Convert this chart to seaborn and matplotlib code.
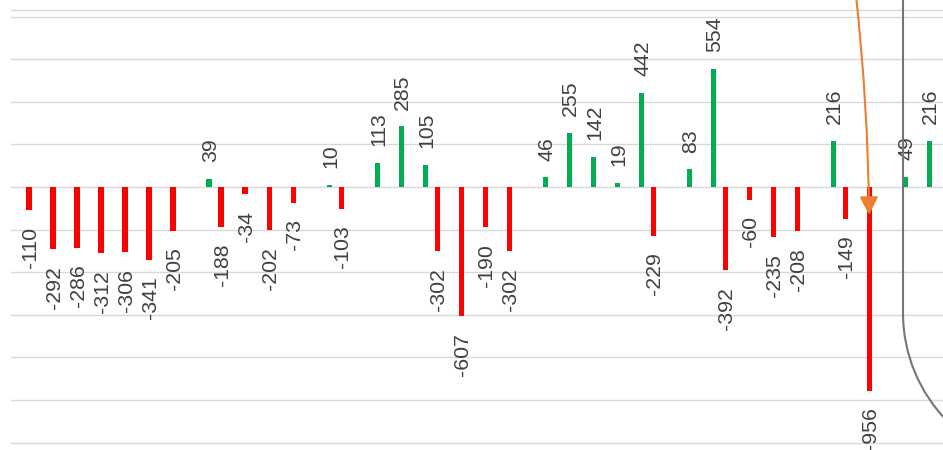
import matplotlib.pyplot as plt
import pandas as pd
import seaborn as sns
from matplotlib.patches import Arc

# Data (one value per period)
values = [-110, -292, -286, -312, -306, -341, -205, 39, -188, -34,
          -202, -73, 10, -103, 113, 285, 105, -302, -607, -190,
          -302, 46, 255, 142, 19, 442, -229, 83, 554, -392,
          -60, -235, -208, 216, -149, -956, 49, 216]
periods = [str(i + 1) for i in range(len(values))]
directions = ['up' if v > 0 else 'down' for v in values]
colors = {'down': '#FF0000', 'up': '#00B050'}
grid_ticks = list(range(-1200, 1000, 200))

df = pd.DataFrame({'period': periods, 'change': values, 'direction': directions})

plt.rcParams['font.family'] = ['Liberation Sans', 'DejaVu Sans']
fig = plt.figure(figsize=(9.43, 4.5), dpi=100)
ax = fig.add_axes([11 / 943, 0, 932 / 943, 1])

sns.barplot(data=df, x='period', y='change', hue='direction', hue_order=['down', 'up'],
            palette=colors, width=1.0, gap=0.58, dodge=True, saturation=1,
            legend=False, ax=ax)

# value labels, rotated
for p in ax.patches:
    h = p.get_height()
    if pd.isna(h):
        continue
    x = p.get_x() + p.get_width() / 2
    up = h > 0
    ax.annotate(f'{h:.0f}', (x, h), xytext=(1.2, 12 if up else -12), textcoords='offset points',
                rotation=90, ha='center', va='bottom' if up else 'top',
                fontsize=15.3, color='#404040')

# grid
ax.set_xlim(-1, 37.83)
ax.set_ylim(-1235, 878)
ax.set_yticks(grid_ticks)
ax.yaxis.grid(True, color='#D9D9D9', lw=1)
ax.axhline(831, color='#D9D9D9', lw=1, zorder=0)
ax.set_axisbelow(True)
ax.tick_params(left=False, bottom=False, labelleft=False, labelbottom=False)
ax.set_xlabel('')
ax.set_ylabel('')
for s in ax.spines.values():
    s.set_visible(False)

# orange arrow pointing at the largest drop
lo = min(range(len(values)), key=lambda i: values[i])
bar_lo = [p for p in ax.patches if p.get_height() == values[lo]][0]
bx = bar_lo.get_x() + bar_lo.get_width() / 2
ax.annotate('', xy=(bx, -131), xytext=(bx - 0.55, 905), textcoords='data',
            annotation_clip=False,
            arrowprops=dict(arrowstyle='-|>,head_length=0.55,head_width=0.28',
                            mutation_scale=20, color='#ED7D31', lw=1.5,
                            shrinkA=0, shrinkB=0, connectionstyle='arc3,rad=-0.025'))

# gray rounded outline on the right
tr = fig.dpi_scale_trans
fig.add_artist(plt.Line2D([9.027, 9.027], [1.37, 4.6], transform=tr, color='#767676', lw=1.5))
fig.add_artist(Arc((10.57, 1.37), 3.08, 3.08, theta1=180, theta2=270, transform=tr,
                   color='#767676', lw=1.5))

fig.savefig('out.png', dpi=100)
